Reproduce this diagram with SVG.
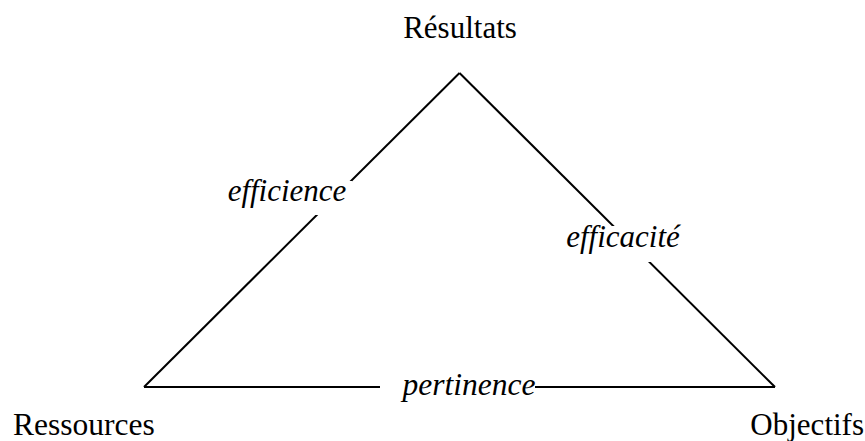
<svg xmlns="http://www.w3.org/2000/svg" width="865" height="441" viewBox="0 0 865 441">
<style>
.e{stroke:#000;stroke-width:2;fill:none}
.bg{fill:#fff}
</style>
<rect width="865" height="441" fill="#fff"/>
<g id="connectors">
<line class="e" x1="144" y1="387" x2="459.5" y2="73"/>
<line class="e" x1="459.5" y1="73" x2="775" y2="387"/>
<line class="e" x1="144" y1="387" x2="775" y2="387"/>
<g id="label-efficience">
<rect class="bg" x="222" y="181" width="130" height="34"/>
<text x="287" y="201" font-family="Liberation Serif" font-size="31" font-style="italic" text-anchor="middle">efficience</text>
</g>
<g id="label-efficacite">
<rect class="bg" x="560" y="226" width="128" height="36"/>
<text x="623" y="247" font-family="Liberation Serif" font-size="31" font-style="italic" text-anchor="middle">efficacité</text>
</g>
<g id="label-pertinence">
<rect class="bg" x="380" y="372" width="155" height="30"/>
<text x="469" y="395" font-family="Liberation Serif" font-size="31.5" font-style="italic" text-anchor="middle">pertinence</text>
</g>
</g>
<g id="node-resultats"><text x="460" y="38" font-family="Liberation Serif" font-size="31" text-anchor="middle">Résultats</text></g>
<g id="node-ressources"><text x="13" y="435" font-family="Liberation Serif" font-size="31.5">Ressources</text></g>
<g id="node-objectifs"><text x="864" y="435" font-family="Liberation Serif" font-size="31" text-anchor="end">Objectifs</text></g>
</svg>
